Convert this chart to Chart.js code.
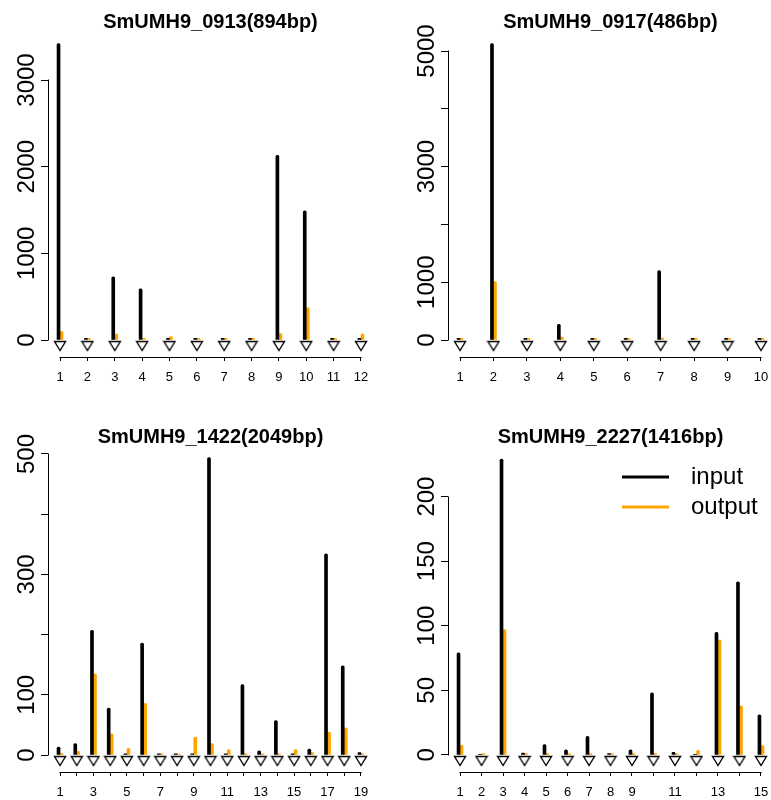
<!DOCTYPE html>
<html>
<head>
<meta charset="utf-8">
<script src="https://cdn.jsdelivr.net/npm/chart.js@4"></script>
<style>
  body { margin: 0; background: #fff; }
  #wrap { position: relative; width: 771px; height: 800px; overflow: hidden; background: #fff; }
  #wrap canvas { position: absolute; }
</style>
</head>
<body>
<div id="wrap">
  <canvas id="c0913" width="400" height="415" style="left:0;top:0"></canvas>
  <canvas id="c0917" width="400" height="415" style="left:400px;top:0"></canvas>
  <canvas id="c1422" width="400" height="415" style="left:0;top:415px"></canvas>
  <canvas id="c2227" width="400" height="415" style="left:400px;top:415px"></canvas>
</div>
<script>
// ===== data =====
const pos0913 = [1, 2, 3, 4, 5, 6, 7, 8, 9, 10, 11, 12];
const input0913 = [3420, 20, 730, 590, 20, 20, 20, 20, 2130, 1490, 20, 20];
const output0913 = [100, 20, 70, 20, 40, 20, 20, 20, 75, 375, 20, 70];
const xLab0913 = ["1", "2", "3", "4", "5", "6", "7", "8", "9", "10", "11", "12"];
const yTick0913 = [0, 500, 1000, 1500, 2000, 2500, 3000, 3500];
const yLab0913 = ["0", "", "1000", "", "2000", "", "3000", ""];
const yLim0913 = [-196, 3554];

const pos0917 = [1, 2, 3, 4, 5, 6, 7, 8, 9, 10];
const input0917 = [30, 5130, 30, 270, 30, 30, 1200, 30, 30, 30];
const output0917 = [30, 1010, 30, 50, 30, 30, 35, 30, 30, 30];
const xLab0917 = ["1", "2", "3", "4", "5", "6", "7", "8", "9", "10"];
const yTick0917 = [0, 1000, 2000, 3000, 4000, 5000];
const yLab0917 = ["0", "1000", "", "3000", "", "5000"];
const yLim0917 = [-294, 5329];

const pos1422 = [1, 2, 3, 4, 5, 6, 7, 8, 9, 10, 11, 12, 13, 14, 15, 16, 17, 18, 19];
const input1422 = [13, 19, 207, 78, 2, 186, 2, 2, 2, 494, 2, 117, 7, 57, 2, 10, 334, 148, 4];
const output1422 = [3, 6, 135, 35, 11, 86, 2, 2, 30, 19, 9, 2, 2, 2, 9, 4, 38, 45, 2];
const xLab1422 = ["1", "", "3", "", "5", "", "7", "", "9", "", "11", "", "13", "", "15", "", "17", "", "19"];
const yTick1422 = [0, 100, 200, 300, 400, 500];
const yLab1422 = ["0", "100", "", "300", "", "500"];
const yLim1422 = [-28.2, 511.6];

const pos2227 = [1, 2, 3, 4, 5, 6, 7, 8, 9, 10, 11, 12, 13, 14, 15];
const input2227 = [79, 0.5, 229, 1.5, 8, 4, 14.5, 1, 4, 48, 2, 0.5, 95, 134, 31];
const output2227 = [7.7, 1, 97, 1, 1, 1, 1, 1, 1, 1, 1, 3.5, 89, 38, 7.2];
const xLab2227 = ["1", "2", "3", "4", "5", "6", "7", "8", "9", "", "11", "", "13", "", "15"];
const yTick2227 = [0, 50, 100, 150, 200];
const yLab2227 = ["0", "50", "100", "150", "200"];
const yLim2227 = [-13.2, 238.4];

const FAMILY = '"Liberation Sans", Arial, Helvetica, sans-serif';
const Y_FONT = 24;

// R-style 4% extension of the x range
const xPad = n => 0.04 * (n - 1);

// open triangle hanging just under the zero line
const tri = document.createElement("canvas");
tri.width = 14;
tri.height = 26;
const tctx = tri.getContext("2d");
tctx.beginPath();
tctx.moveTo(1.5, 14.5);
tctx.lineTo(12.5, 14.5);
tctx.lineTo(7, 23.5);
tctx.closePath();
tctx.fillStyle = "#fff";
tctx.fill();
tctx.strokeStyle = "#000";
tctx.lineWidth = 1.4;
tctx.lineJoin = "miter";
tctx.stroke();

// axis lines that only run between the first and last tick, like R
const rAxes = {
    id: "rAxes",
    afterDraw(chart) {
        const { ctx, chartArea: a, scales: { x, y } } = chart;
        const al = v => Math.round(v - 0.5) + 0.5;
        const xt = x.ticks, yt = y.ticks;
        ctx.save();
        ctx.strokeStyle = "#000";
        ctx.lineWidth = 1;
        ctx.beginPath();
        ctx.moveTo(al(a.left), Math.round(y.getPixelForValue(yt[0].value)) + 0.5);
        ctx.lineTo(al(a.left), Math.round(y.getPixelForValue(yt[yt.length - 1].value)) - 0.5);
        ctx.moveTo(Math.round(x.getPixelForValue(xt[0].value)) - 0.5, al(a.bottom));
        ctx.lineTo(Math.round(x.getPixelForValue(xt[xt.length - 1].value)) + 0.5, al(a.bottom));
        ctx.stroke();
        ctx.restore();
    }
};

// legend inside the plot (only on the last panel)
const rLegend = {
    id: "rLegend",
    afterDraw(chart, args, opts) {
        if (!opts.show) return;
        const { ctx, chartArea: a } = chart;
        const items = chart.data.datasets.filter(d => d.type !== "line");
        ctx.save();
        ctx.font = "24px " + FAMILY;
        ctx.textBaseline = "middle";
        items.forEach((d, i) => {
            const yy = a.top + 30 + i * 30;
            ctx.strokeStyle = d.backgroundColor;
            ctx.lineWidth = 3;
            ctx.beginPath();
            ctx.moveTo(a.right - 151, yy);
            ctx.lineTo(a.right - 104, yy);
            ctx.stroke();
            ctx.fillStyle = "#000";
            ctx.fillText(d.label, a.right - 82, yy);
        });
        ctx.restore();
    }
};

function makePanel(id, title, pos, inp, out, yLim, yTicks, yLabels, xLabels, withLegend) {
    const m = document.createElement("canvas").getContext("2d");
    m.font = Y_FONT + "px " + FAMILY;
    const widest = Math.max(...yLabels.map(l => m.measureText(l).width));
    const n = pos.length;

    return new Chart(document.getElementById(id), {
        type: "bar",
        data: {
            datasets: [
                {
                    type: "line",
                    label: "site",
                    data: pos.map(p => ({ x: p, y: 0 })),
                    showLine: false,
                    pointStyle: tri,
                    pointRadius: 6,
                    order: 0
                },
                {
                    label: "input",
                    data: pos.map((p, i) => ({ x: p, y: inp[i] })),
                    backgroundColor: "#000000",
                    barThickness: 3,
                    borderRadius: 1.5,
                    order: 1
                },
                {
                    label: "output",
                    data: pos.map((p, i) => ({ x: p, y: out[i] })),
                    backgroundColor: "#FFA500",
                    barThickness: 3,
                    borderRadius: 1.5,
                    order: 1
                }
            ]
        },
        options: {
            responsive: false,
            animation: false,
            layout: { padding: { left: 0, right: 27, top: 0, bottom: 0 } },
            plugins: {
                legend: { display: false },
                tooltip: { enabled: false },
                title: {
                    display: true,
                    text: title,
                    fullSize: false,
                    color: "#000",
                    font: { family: FAMILY, size: 20, weight: "bold", lineHeight: 1 },
                    padding: { top: 12, bottom: 0 }
                },
                rLegend: { show: withLegend }
            },
            scales: {
                x: {
                    type: "linear",
                    offset: false,
                    min: pos[0] - xPad(n),
                    max: pos[n - 1] + xPad(n),
                    afterBuildTicks: s => { s.ticks = pos.map(v => ({ value: v })); },
                    afterFit: s => { s.height = 58; },
                    border: { display: false },
                    grid: { offset: false, drawOnChartArea: false, drawTicks: true, tickLength: 4, color: "#000", lineWidth: 1 },
                    ticks: {
                        autoSkip: false,
                        minRotation: 0,
                        maxRotation: 0,
                        padding: 9,
                        color: "#000",
                        font: { family: FAMILY, size: 13 },
                        callback: (v, i) => xLabels[i]
                    }
                },
                y: {
                    min: yLim[0],
                    max: yLim[1],
                    afterBuildTicks: s => { s.ticks = yTicks.map(v => ({ value: v })); },
                    afterFit: s => { s.width = 48; },
                    border: { display: false },
                    grid: { drawOnChartArea: false, drawTicks: true, tickLength: 7, color: "#000", lineWidth: 1 },
                    ticks: {
                        minRotation: 90,
                        maxRotation: 90,
                        crossAlign: "center",
                        padding: 14 - widest / 2,
                        color: "#000",
                        font: { family: FAMILY, size: Y_FONT },
                        callback: (v, i) => yLabels[i]
                    }
                }
            }
        },
        plugins: [rAxes, rLegend]
    });
}

makePanel("c0913", "SmUMH9_0913(894bp)", pos0913, input0913, output0913, yLim0913, yTick0913, yLab0913, xLab0913, false);
makePanel("c0917", "SmUMH9_0917(486bp)", pos0917, input0917, output0917, yLim0917, yTick0917, yLab0917, xLab0917, false);
makePanel("c1422", "SmUMH9_1422(2049bp)", pos1422, input1422, output1422, yLim1422, yTick1422, yLab1422, xLab1422, false);
makePanel("c2227", "SmUMH9_2227(1416bp)", pos2227, input2227, output2227, yLim2227, yTick2227, yLab2227, xLab2227, true);
</script>
</body>
</html>
